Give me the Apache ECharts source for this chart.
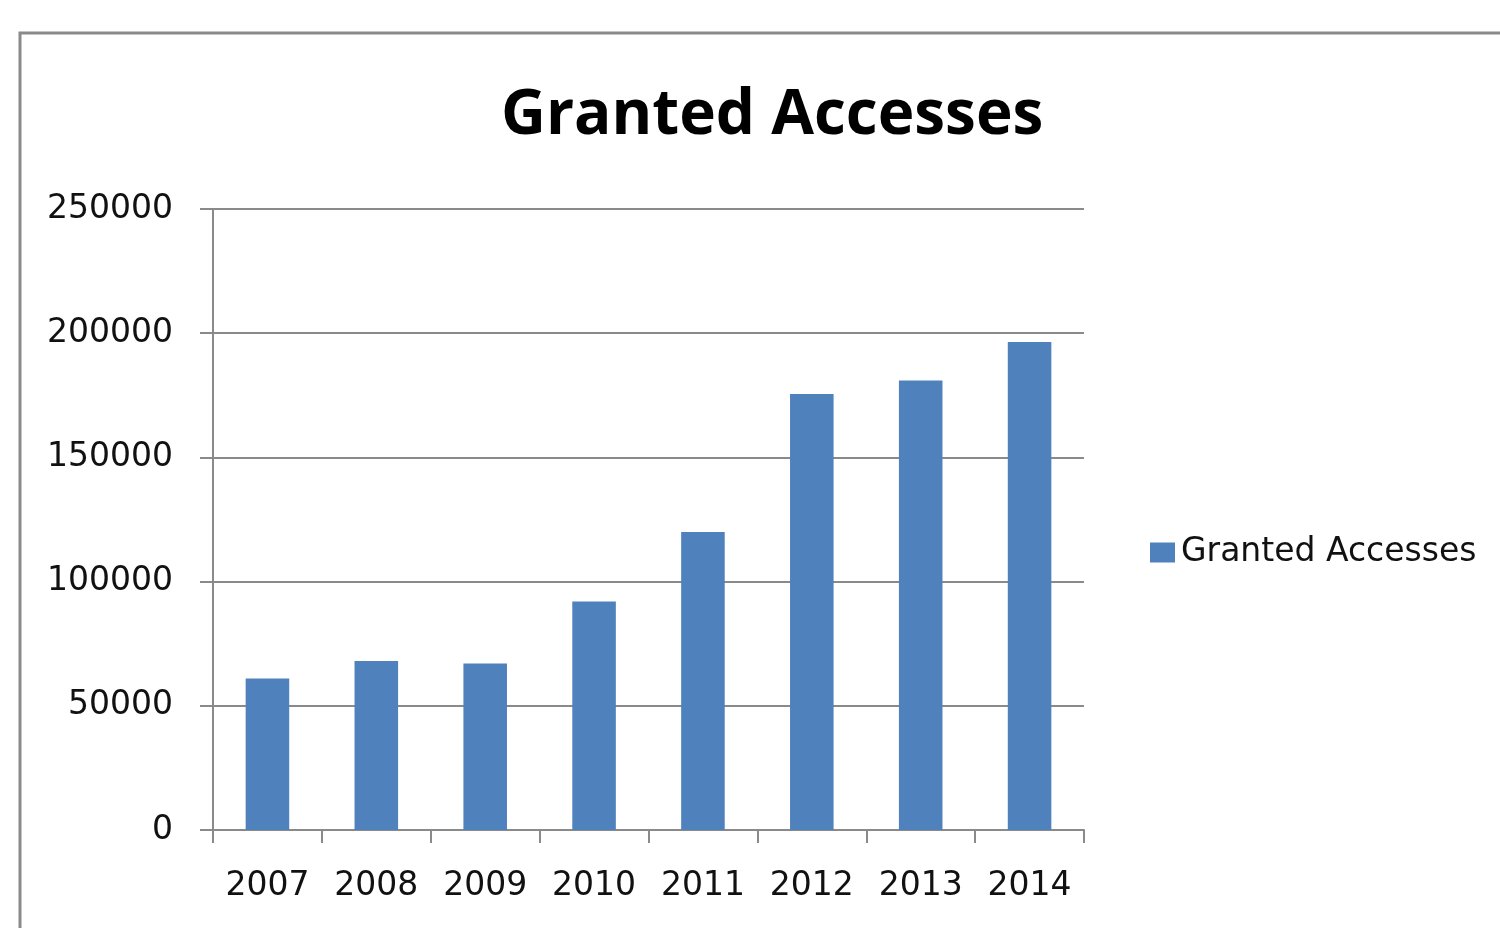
<!DOCTYPE html>
<html><head><meta charset="utf-8">
<script src="https://cdn.jsdelivr.net/npm/echarts@6/dist/echarts.min.js"></script>
<style>html,body{margin:0;padding:0;background:#fff}#c{width:1500px;height:928px}</style>
</head><body><div id="c"></div>
<script>
const categories = ['2007','2008','2009','2010','2011','2012','2013','2014'];
const grantedAccesses = [61000, 68000, 67000, 92000, 120000, 175500, 181000, 196500];
const seriesName = 'Granted Accesses';
const titleText = 'Granted Accesses';

const chart = echarts.init(document.getElementById('c'));
const gray = '#8a8a8a';
chart.setOption({
  animation: false,
  backgroundColor: '#fff',
  graphic: [{
    type: 'rect', silent: true, z: -1,
    shape: { x: 20, y: 33, width: 1600, height: 1000 },
    style: { fill: 'none', stroke: gray, lineWidth: 3 }
  }],
  title: {
    text: titleText,
    left: 496, top: 80,
    textStyle: { fontFamily: 'Open Sans', fontWeight: 'bold', fontSize: 62, color: '#000' }
  },
  legend: {
    left: 1145, top: 531,
    itemWidth: 25, itemHeight: 20, itemGap: 10,
    icon: 'rect',
    textStyle: { fontFamily: 'DejaVu Sans', fontSize: 33, color: '#111', padding: [0,0,0,1] },
    data: [seriesName]
  },
  grid: { left: 213, right: 416, top: 209, bottom: 98, containLabel: false },
  xAxis: {
    type: 'category', data: categories,
    axisLine: { show: true, lineStyle: { color: gray, width: 2 } },
    axisTick: { show: true, interval: 0, length: 13, alignWithLabel: false, lineStyle: { color: gray, width: 2 } },
    axisLabel: { interval: 0, margin: 40, fontFamily: 'DejaVu Sans', fontSize: 33, color: '#111' },
    splitLine: { show: false }
  },
  yAxis: {
    type: 'value', min: 0, max: 250000, interval: 50000,
    axisLine: { show: true, lineStyle: { color: gray, width: 2 } },
    axisTick: { show: true, length: 13, lineStyle: { color: gray, width: 2 } },
    axisLabel: { margin: 40, fontFamily: 'DejaVu Sans', fontSize: 33, color: '#111', formatter: v => String(v) },
    splitLine: { show: true, lineStyle: { color: gray, width: 2 } }
  },
  series: [{
    name: seriesName, type: 'bar', data: grantedAccesses,
    barWidth: '40%',
    itemStyle: { color: '#4F81BD' }
  }]
});
</script></body></html>
